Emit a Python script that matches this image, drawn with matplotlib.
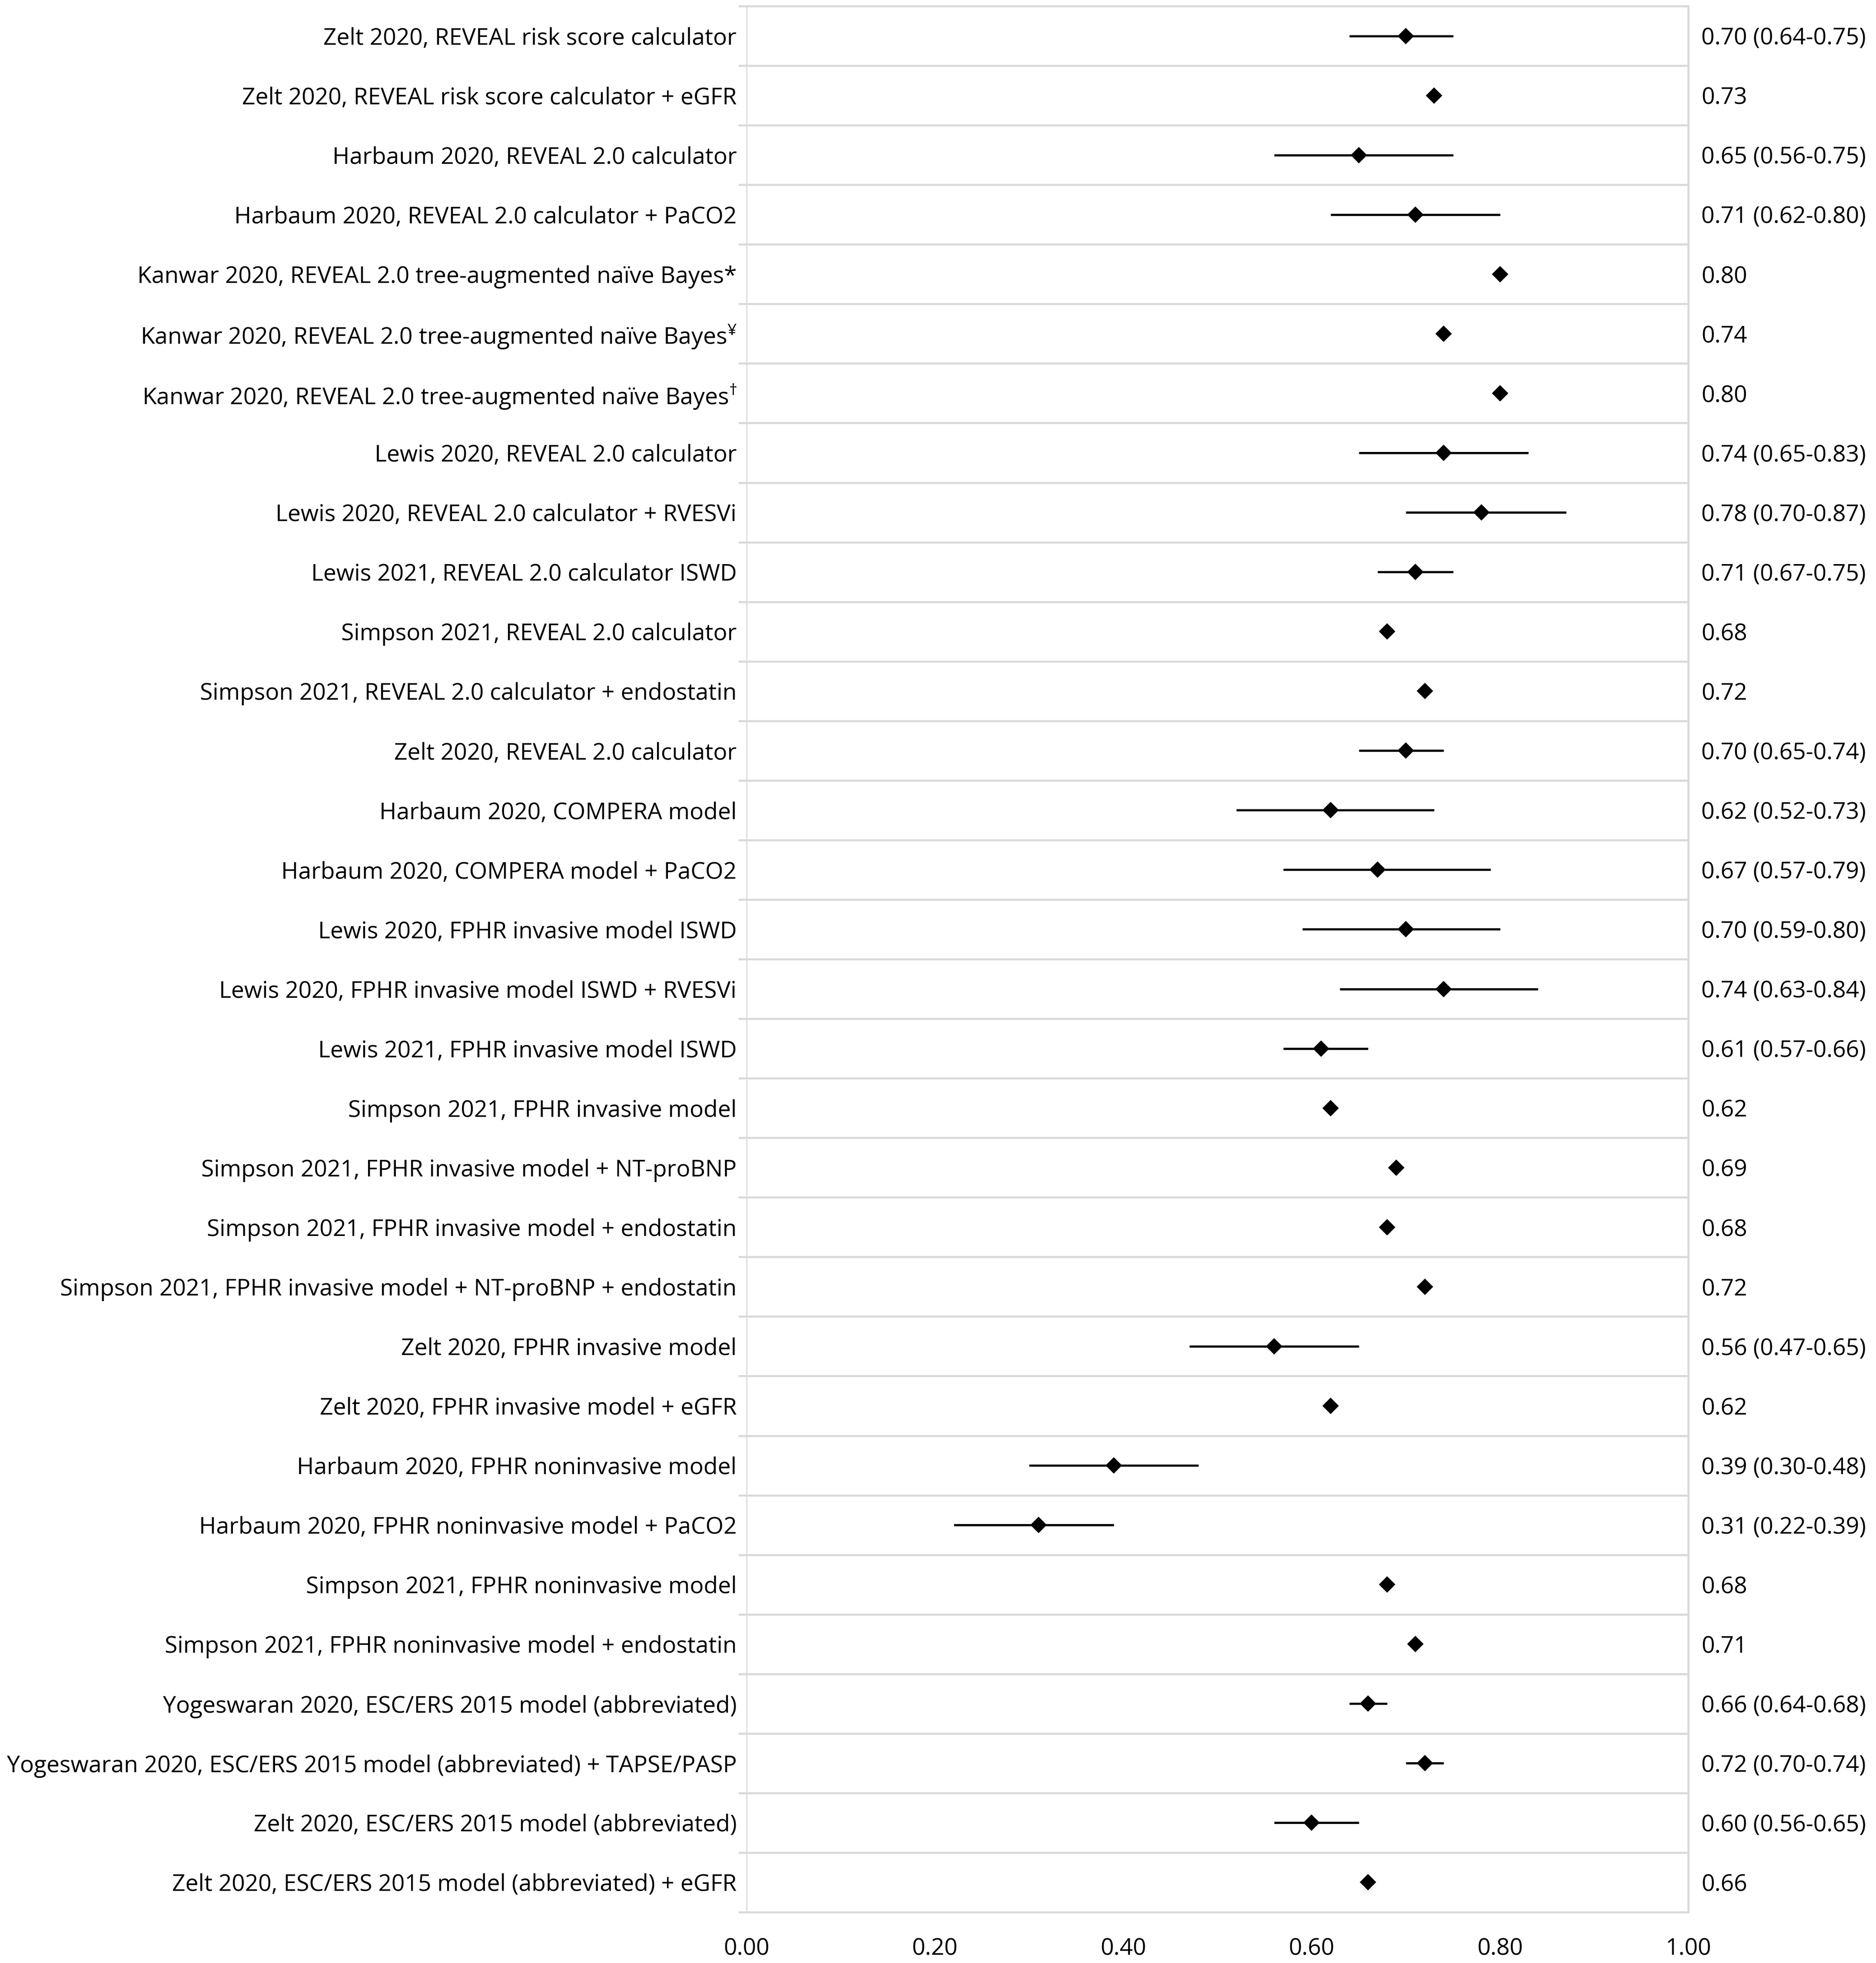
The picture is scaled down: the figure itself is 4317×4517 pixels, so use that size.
import numpy as np
import matplotlib
matplotlib.use("Agg")
import matplotlib.pyplot as plt
import matplotlib.transforms as mtransforms


plt.rcParams['font.family'] = ['Open Sans', 'DejaVu Sans']
plt.rcParams['mathtext.fontset'] = 'custom'
plt.rcParams['mathtext.rm'] = 'Open Sans'
font_size = 12.8
grid_color = '#d9d9d9'

# Study / model labels, top to bottom
labels = [
    "Zelt 2020, REVEAL risk score calculator",
    "Zelt 2020, REVEAL risk score calculator + eGFR",
    "Harbaum 2020, REVEAL 2.0 calculator",
    "Harbaum 2020, REVEAL 2.0 calculator + PaCO2",
    "Kanwar 2020, REVEAL 2.0 tree-augmented naïve Bayes*",
    r"Kanwar 2020, REVEAL 2.0 tree-augmented naïve Bayes$^{\mathregular{¥}}$",
    r"Kanwar 2020, REVEAL 2.0 tree-augmented naïve Bayes$^{\mathregular{†}}$",
    "Lewis 2020, REVEAL 2.0 calculator",
    "Lewis 2020, REVEAL 2.0 calculator + RVESVi",
    "Lewis 2021, REVEAL 2.0 calculator ISWD",
    "Simpson 2021, REVEAL 2.0 calculator",
    "Simpson 2021, REVEAL 2.0 calculator + endostatin",
    "Zelt 2020, REVEAL 2.0 calculator",
    "Harbaum 2020, COMPERA model",
    "Harbaum 2020, COMPERA model + PaCO2",
    "Lewis 2020, FPHR invasive model ISWD",
    "Lewis 2020, FPHR invasive model ISWD + RVESVi",
    "Lewis 2021, FPHR invasive model ISWD",
    "Simpson 2021, FPHR invasive model",
    "Simpson 2021, FPHR invasive model + NT-proBNP",
    "Simpson 2021, FPHR invasive model + endostatin",
    "Simpson 2021, FPHR invasive model + NT-proBNP + endostatin",
    "Zelt 2020, FPHR invasive model",
    "Zelt 2020, FPHR invasive model + eGFR",
    "Harbaum 2020, FPHR noninvasive model",
    "Harbaum 2020, FPHR noninvasive model + PaCO2",
    "Simpson 2021, FPHR noninvasive model",
    "Simpson 2021, FPHR noninvasive model + endostatin",
    "Yogeswaran 2020, ESC/ERS 2015 model (abbreviated)",
    "Yogeswaran 2020, ESC/ERS 2015 model (abbreviated) + TAPSE/PASP",
    "Zelt 2020, ESC/ERS 2015 model (abbreviated)",
    "Zelt 2020, ESC/ERS 2015 model (abbreviated) + eGFR",
]

# C-statistic and 95% CI (None where no CI reported)
c_stat = [0.70, 0.73, 0.65, 0.71, 0.80, 0.74, 0.80, 0.74, 0.78, 0.71,
          0.68, 0.72, 0.70, 0.62, 0.67, 0.70, 0.74, 0.61, 0.62, 0.69,
          0.68, 0.72, 0.56, 0.62, 0.39, 0.31, 0.68, 0.71, 0.66, 0.72,
          0.60, 0.66]
ci_low = [0.64, None, 0.56, 0.62, None, None, None, 0.65, 0.70, 0.67,
          None, None, 0.65, 0.52, 0.57, 0.59, 0.63, 0.57, None, None,
          None, None, 0.47, None, 0.30, 0.22, None, None, 0.64, 0.70,
          0.56, None]
ci_high = [0.75, None, 0.75, 0.80, None, None, None, 0.83, 0.87, 0.75,
           None, None, 0.74, 0.73, 0.79, 0.80, 0.84, 0.66, None, None,
           None, None, 0.65, None, 0.48, 0.39, None, None, 0.68, 0.74,
           0.65, None]

x_ticks = [0.0, 0.2, 0.4, 0.6, 0.8, 1.0]

n_rows = len(labels)
rows = np.arange(n_rows)

fig = plt.figure(figsize=(4317 / 300, 4517 / 300), dpi=300)
ax = fig.add_axes([0.398, 0.0259, 0.502, 0.9710])

# Row separators
boundaries = np.arange(n_rows + 1) - 0.5
ax.hlines(boundaries, 0, 1, color=grid_color, lw=1.1, clip_on=False, zorder=1)

# Confidence intervals
for i in rows:
    if ci_low[i] is not None:
        ax.plot([ci_low[i], ci_high[i]], [i, i], color='black', lw=1.2,
                solid_capstyle='butt', zorder=2)

# Point estimates
ax.plot(c_stat, rows, linestyle='none', marker='D', markersize=5.6,
        color='black', zorder=3)

ax.set_xlim(0, 1)
ax.set_ylim(n_rows - 0.5, -0.5)

ax.set_xticks(x_ticks)
ax.set_xticklabels([f"{t:.2f}" for t in x_ticks], fontsize=font_size)
ax.tick_params(axis='x', length=0, pad=14)

ax.set_yticks(rows)
ax.set_yticklabels(labels, fontsize=font_size)
ax.tick_params(axis='y', which='major', length=0, pad=5.5)
ax.set_yticks(boundaries, minor=True)
ax.tick_params(axis='y', which='minor', length=4.5, width=1.1, color=grid_color)

for side in ['top', 'bottom']:
    ax.spines[side].set_visible(False)
ax.spines['left'].set_color(grid_color)
ax.spines['left'].set_linewidth(0.6)
ax.spines['right'].set_color(grid_color)
ax.spines['right'].set_linewidth(1.1)

# Value column on the right
trans = mtransforms.blended_transform_factory(ax.transAxes, ax.transData)
for i in rows:
    if ci_low[i] is not None:
        txt = f"{c_stat[i]:.2f} ({ci_low[i]:.2f}-{ci_high[i]:.2f})"
    else:
        txt = f"{c_stat[i]:.2f}"
    ax.text(1.0138, i, txt, transform=trans, ha='left', va='center_baseline',
            fontsize=font_size)

fig.savefig("out.png", dpi=300, facecolor='white')
